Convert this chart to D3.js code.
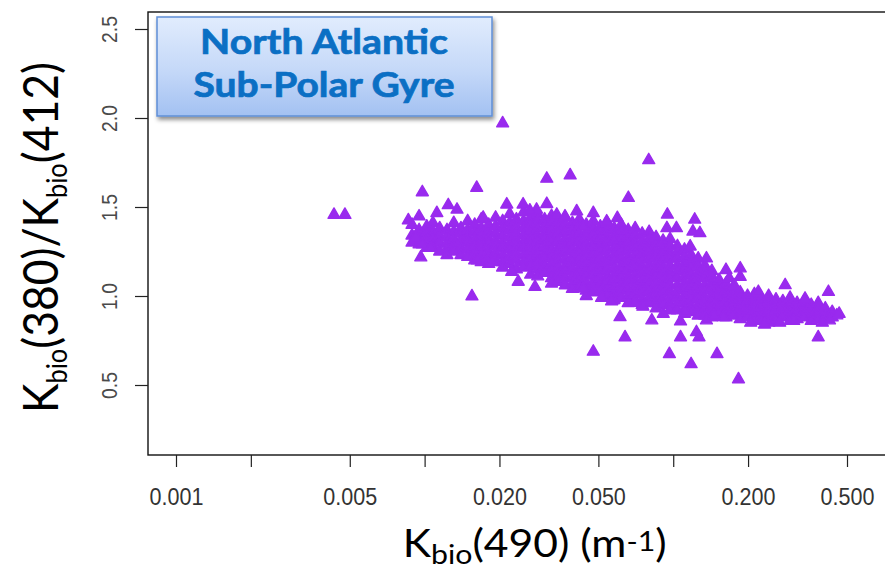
<!DOCTYPE html>
<html>
<head>
<meta charset="utf-8">
<script src="https://cdn.jsdelivr.net/npm/d3@7"></script>
<style>
  html, body { margin: 0; padding: 0; background: #ffffff; }
  svg { display: block; }
</style>
</head>
<body>
<svg id="chart" width="885" height="571"></svg>
<script>
// ---- axis ticks ----
const xTickValues = [0.001, 0.002, 0.005, 0.01, 0.02, 0.05, 0.1, 0.2, 0.5];
const xTickLabels = ["0.001", "", "0.005", "", "0.020", "0.050", "", "0.200", "0.500"];
const yTickValues = [0.5, 1.0, 1.5, 2.0, 2.5];
const yTickLabels = ["0.5", "1.0", "1.5", "2.0", "2.5"];

// ---- region label ----
const regionLines = ["North Atlantic", "Sub-Polar Gyre"];

// ---- main cloud: each row is [Kbio(490), ratio, ratio, ...] ----
const cloudColumns = [
  [0.0089, 1.40, 1.34, 1.30],
  [0.0095, 1.37, 1.33, 1.29],
  [0.0102, 1.39, 1.35, 1.31, 1.27],
  [0.0108, 1.41, 1.36, 1.32, 1.28],
  [0.0115, 1.38, 1.34, 1.30, 1.25],
  [0.0123, 1.37, 1.33, 1.29, 1.26, 1.23],
  [0.0131, 1.41, 1.36, 1.32, 1.28, 1.25],
  [0.0140, 1.38, 1.35, 1.31, 1.27, 1.23],
  [0.0149, 1.42, 1.37, 1.33, 1.30, 1.26, 1.22],
  [0.0159, 1.40, 1.36, 1.32, 1.28, 1.24, 1.20],
  [0.0169, 1.43, 1.38, 1.34, 1.30, 1.27, 1.23, 1.19],
  [0.0181, 1.40, 1.36, 1.32, 1.29, 1.25, 1.21, 1.18],
  [0.0193, 1.44, 1.39, 1.35, 1.31, 1.28, 1.24, 1.20],
  [0.0206, 1.42, 1.38, 1.34, 1.30, 1.27, 1.23, 1.19, 1.16],
  [0.0220, 1.46, 1.41, 1.37, 1.33, 1.29, 1.26, 1.22, 1.18],
  [0.0234, 1.43, 1.39, 1.35, 1.31, 1.28, 1.24, 1.20, 1.15],
  [0.0250, 1.47, 1.42, 1.38, 1.34, 1.30, 1.27, 1.23, 1.19, 1.16],
  [0.0267, 1.44, 1.40, 1.36, 1.32, 1.29, 1.25, 1.21, 1.17, 1.12],
  [0.0285, 1.46, 1.42, 1.38, 1.34, 1.31, 1.27, 1.23, 1.19, 1.15, 1.11],
  [0.0304, 1.43, 1.39, 1.35, 1.32, 1.28, 1.24, 1.21, 1.17, 1.13],
  [0.0324, 1.45, 1.41, 1.37, 1.33, 1.30, 1.26, 1.22, 1.18, 1.14, 1.10, 1.07],
  [0.0345, 1.42, 1.38, 1.35, 1.31, 1.27, 1.24, 1.20, 1.16, 1.12, 1.08],
  [0.0368, 1.44, 1.40, 1.36, 1.32, 1.28, 1.25, 1.21, 1.17, 1.14, 1.10, 1.06],
  [0.0393, 1.41, 1.37, 1.33, 1.30, 1.26, 1.22, 1.19, 1.15, 1.11, 1.07, 1.04],
  [0.0419, 1.43, 1.39, 1.35, 1.31, 1.27, 1.24, 1.20, 1.16, 1.13, 1.09, 1.05],
  [0.0447, 1.40, 1.36, 1.33, 1.29, 1.25, 1.22, 1.18, 1.14, 1.11, 1.07, 1.03, 1.00],
  [0.0477, 1.42, 1.38, 1.34, 1.30, 1.27, 1.23, 1.19, 1.16, 1.12, 1.08, 1.05, 1.02],
  [0.0509, 1.39, 1.36, 1.32, 1.28, 1.25, 1.21, 1.17, 1.14, 1.10, 1.06, 1.03],
  [0.0543, 1.41, 1.37, 1.33, 1.30, 1.26, 1.22, 1.19, 1.15, 1.11, 1.08, 1.04, 1.00],
  [0.0579, 1.38, 1.34, 1.31, 1.27, 1.23, 1.20, 1.16, 1.12, 1.09, 1.05, 1.01, 0.98],
  [0.0618, 1.40, 1.36, 1.32, 1.28, 1.25, 1.21, 1.17, 1.14, 1.10, 1.06, 1.03, 0.99],
  [0.0659, 1.37, 1.33, 1.30, 1.26, 1.22, 1.19, 1.15, 1.11, 1.08, 1.04, 1.00, 0.96],
  [0.0703, 1.38, 1.34, 1.30, 1.27, 1.23, 1.19, 1.16, 1.12, 1.08, 1.05, 1.01, 0.97],
  [0.0750, 1.35, 1.31, 1.27, 1.24, 1.20, 1.16, 1.13, 1.09, 1.05, 1.02, 0.98, 0.95],
  [0.0800, 1.36, 1.32, 1.28, 1.25, 1.21, 1.17, 1.14, 1.10, 1.06, 1.03, 0.99, 0.96],
  [0.0853, 1.33, 1.29, 1.25, 1.22, 1.18, 1.14, 1.11, 1.07, 1.03, 1.00, 0.96, 0.93],
  [0.0910, 1.31, 1.27, 1.24, 1.20, 1.16, 1.13, 1.09, 1.05, 1.02, 0.98, 0.95],
  [0.0971, 1.32, 1.28, 1.24, 1.21, 1.17, 1.13, 1.10, 1.06, 1.02, 0.99, 0.95, 0.92],
  [0.104, 1.28, 1.25, 1.21, 1.17, 1.14, 1.10, 1.06, 1.03, 0.99, 0.96, 0.92],
  [0.111, 1.26, 1.22, 1.18, 1.15, 1.11, 1.07, 1.04, 1.00, 0.97, 0.93, 0.90],
  [0.118, 1.23, 1.19, 1.16, 1.12, 1.08, 1.05, 1.01, 0.98, 0.94, 0.91],
  [0.126, 1.21, 1.17, 1.13, 1.10, 1.06, 1.02, 0.99, 0.95, 0.92, 0.89],
  [0.134, 1.17, 1.14, 1.10, 1.06, 1.03, 0.99, 0.96, 0.92, 0.89],
  [0.143, 1.14, 1.11, 1.07, 1.04, 1.00, 0.97, 0.94, 0.91, 0.88],
  [0.153, 1.09, 1.05, 1.02, 0.99, 0.96, 0.93, 0.90],
  [0.163, 1.07, 1.03, 1.00, 0.97, 0.94, 0.91, 0.88],
  [0.174, 1.04, 1.01, 0.98, 0.95, 0.92, 0.89],
  [0.186, 1.02, 0.99, 0.96, 0.93, 0.90, 0.87],
  [0.199, 1.00, 0.97, 0.94, 0.91, 0.88],
  [0.212, 1.01, 0.98, 0.95, 0.92, 0.89, 0.86],
  [0.227, 0.98, 0.95, 0.92, 0.89, 0.86],
  [0.242, 1.00, 0.97, 0.94, 0.91, 0.88, 0.85],
  [0.259, 0.98, 0.95, 0.92, 0.89, 0.86],
  [0.276, 0.97, 0.94, 0.91, 0.88],
  [0.295, 0.99, 0.95, 0.92, 0.89, 0.86],
  [0.315, 0.96, 0.93, 0.90, 0.87],
  [0.336, 0.97, 0.94, 0.91, 0.88],
  [0.359, 0.95, 0.92, 0.89, 0.86],
  [0.383, 0.96, 0.93, 0.90, 0.87],
  [0.409, 0.93, 0.90, 0.88],
  [0.436, 0.91, 0.88]
];

// ---- observations scattered around the cloud: [Kbio(490), ratio] ----
const scatteredPoints = [
  [0.00432, 1.456], [0.00478, 1.456],
  [0.0206, 1.97], [0.0797, 1.763], [0.0385, 1.678], [0.0310, 1.659],
  [0.0660, 1.551], [0.00979, 1.583], [0.0162, 1.608],
  [0.0155, 0.998], [0.00965, 1.217], [0.0096, 1.296],
  [0.0086, 1.425], [0.0095, 1.447], [0.0112, 1.466], [0.01245, 1.51], [0.0135, 1.485],
  [0.0224, 1.136], [0.0238, 1.08], [0.0278, 1.051],
  [0.0214, 1.514], [0.0249, 1.514], [0.0310, 1.517], [0.0282, 1.485],
  [0.0340, 1.457], [0.0367, 1.447], [0.0409, 1.476], [0.0477, 1.466],
  [0.0540, 1.419], [0.0596, 1.438], [0.0435, 1.391],
  [0.0947, 1.457], [0.0943, 1.381], [0.103, 1.381], [0.122, 1.429],
  [0.120, 1.362], [0.128, 1.353], [0.117, 1.278], [0.136, 1.211],
  [0.163, 1.146], [0.186, 1.155], [0.186, 1.108], [0.220, 1.023],
  [0.282, 1.061], [0.339, 0.985], [0.421, 1.023], [0.455, 0.891],
  [0.425, 0.863], [0.383, 0.768],
  [0.0611, 0.881], [0.0640, 0.768], [0.0477, 0.687], [0.0820, 0.863],
  [0.0912, 0.900], [0.107, 0.857], [0.0965, 0.674], [0.107, 0.768],
  [0.118, 0.617], [0.124, 0.797], [0.127, 0.768], [0.150, 0.674],
  [0.183, 0.532], [0.0574, 0.976], [0.0702, 0.962], [0.0435, 1.042],
  [0.136, 0.863], [0.159, 0.881],
  [0.0092, 1.33], [0.0098, 1.29], [0.0106, 1.27], [0.0163, 1.20],
  [0.0187, 1.19], [0.0172, 1.44], [0.0265, 1.48], [0.0515, 0.99],
  [0.0565, 0.97], [0.0755, 0.94], [0.112, 0.91], [0.146, 0.89],
  [0.205, 0.85], [0.233, 0.84], [0.268, 0.85], [0.305, 0.86],
  [0.398, 0.85], [0.465, 0.90], [0.168, 1.10], [0.176, 1.06]
];

// ---- flatten into [Kbio(490), ratio] pairs ----
const points = [];
cloudColumns.forEach(col => {
  col.slice(1).forEach(r => points.push([col[0], r]));
});
scatteredPoints.forEach(p => points.push(p));

// ---- layout ----
const svg = d3.select("#chart");
const frame = { left: 148, top: 12, bottom: 455, right: 900 };

const x = d3.scaleLog().domain([0.001, 0.5]).range([176, 847]);
const y = d3.scaleLinear().domain([0.5, 2.5]).range([385, 29]);

const defs = svg.append("defs");
const grad = defs.append("linearGradient")
  .attr("id", "labelFill").attr("x1", 0).attr("y1", 0).attr("x2", 0).attr("y2", 1);
grad.append("stop").attr("offset", "0%").attr("stop-color", "#e1ecfd");
grad.append("stop").attr("offset", "55%").attr("stop-color", "#c4d8f8");
grad.append("stop").attr("offset", "100%").attr("stop-color", "#a3c1f2");
const shadow = defs.append("filter").attr("id", "labelShadow")
  .attr("x", "-10%").attr("y", "-10%").attr("width", "130%").attr("height", "140%");
shadow.append("feDropShadow")
  .attr("dx", 1.5).attr("dy", 3).attr("stdDeviation", 2.2)
  .attr("flood-color", "#000").attr("flood-opacity", 0.45);

// ---- points ----
const markColor = "#992aee";
const tri = d3.symbol().type(d3.symbolTriangle).size(62);
svg.append("g")
  .selectAll("path")
  .data(points)
  .join("path")
  .attr("d", tri)
  .attr("transform", d => `translate(${x(d[0])},${y(d[1])})`)
  .attr("fill", markColor)
  .attr("stroke", markColor)
  .attr("stroke-width", 1.4)
  .attr("stroke-linejoin", "round");

// ---- frame ----
svg.append("rect")
  .attr("x", frame.left).attr("y", frame.top)
  .attr("width", frame.right - frame.left).attr("height", frame.bottom - frame.top)
  .attr("fill", "none").attr("stroke", "#111").attr("stroke-width", 1.4);

// ---- x axis ----
const xAxis = svg.append("g")
  .attr("transform", `translate(0,${frame.bottom})`)
  .call(d3.axisBottom(x)
    .tickValues(xTickValues)
    .tickFormat((d, i) => xTickLabels[i])
    .tickSize(12)
    .tickPadding(21));
xAxis.select(".domain").remove();
xAxis.selectAll(".tick line").attr("stroke", "#222").attr("stroke-width", 1.2);
const xText = xAxis.selectAll(".tick text")
  .attr("font-family", "'Liberation Sans', Arial, sans-serif")
  .attr("font-size", 23.5)
  .attr("fill", "#333");
{
  const ref = xText.filter((d, i) => i === 0).node();
  const sx = 54 / ref.getComputedTextLength();
  xText.attr("transform", `scale(${sx},1)`);
}

// ---- y axis ----
const yAxis = svg.append("g")
  .attr("transform", `translate(${frame.left},0)`)
  .call(d3.axisLeft(y)
    .tickValues(yTickValues)
    .tickFormat("")
    .tickSize(13));
yAxis.select(".domain").remove();
yAxis.selectAll(".tick line").attr("stroke", "#222").attr("stroke-width", 1.2);
const yText = yAxis.selectAll(".tick")
  .append("text")
  .attr("text-anchor", "middle")
  .attr("font-family", "'Liberation Sans', Arial, sans-serif")
  .attr("font-size", 22)
  .attr("fill", "#4a4a4a")
  .text((d, i) => yTickLabels[i]);
{
  const sy = 27 / yText.node().getComputedTextLength();
  yText.attr("transform", `translate(${117 - frame.left},0) rotate(-90) scale(${sy},1)`);
}

// ---- axis titles ----
const titleFont = "Lato, 'Open Sans', sans-serif";

const xTitle = svg.append("text")
  .attr("font-family", titleFont)
  .attr("font-size", 38)
  .attr("fill", "#000")
  .attr("text-anchor", "middle");
xTitle.append("tspan").text("K");
xTitle.append("tspan").attr("font-size", 27).attr("dy", 7).text("bio");
xTitle.append("tspan").attr("dy", -7).text("(490) (m");
xTitle.append("tspan").attr("font-size", 27).attr("dy", -6).text("-1");
xTitle.append("tspan").attr("dy", 6).text(")");
{
  const s = 264 / xTitle.node().getComputedTextLength();
  xTitle.attr("transform", `translate(534.7,557) scale(${s},1)`);
}

const yTitle = svg.append("text")
  .attr("font-family", titleFont)
  .attr("font-size", 49)
  .attr("fill", "#000")
  .attr("text-anchor", "middle");
yTitle.append("tspan").text("K");
yTitle.append("tspan").attr("font-size", 28).attr("dy", 9).text("bio");
yTitle.append("tspan").attr("dy", -9).text("(380)/K");
yTitle.append("tspan").attr("font-size", 28).attr("dy", 9).text("bio");
yTitle.append("tspan").attr("dy", -9).text("(412)");
{
  const s = 351 / yTitle.node().getComputedTextLength();
  yTitle.attr("transform", `translate(58,237.5) rotate(-90) scale(${s},1)`);
}

// ---- region label box ----
const label = svg.append("g");
label.append("rect")
  .attr("x", 157).attr("y", 17).attr("width", 335).attr("height", 99)
  .attr("fill", "url(#labelFill)")
  .attr("stroke", "#5f8fd6").attr("stroke-width", 1.5)
  .attr("filter", "url(#labelShadow)");
const lineTargets = [248, 261];
const lineBaselines = [53.5, 96.5];
regionLines.forEach((t, i) => {
  const el = label.append("text")
    .attr("font-family", titleFont)
    .attr("font-weight", 700)
    .attr("font-size", 34)
    .attr("fill", "#0b6fc4")
    .attr("stroke", "#0b6fc4")
    .attr("stroke-width", 0.7)
    .attr("text-anchor", "middle")
    .text(t);
  const s = lineTargets[i] / el.node().getComputedTextLength();
  el.attr("transform", `translate(324,${lineBaselines[i]}) scale(${s},1)`);
});
</script>
</body>
</html>
